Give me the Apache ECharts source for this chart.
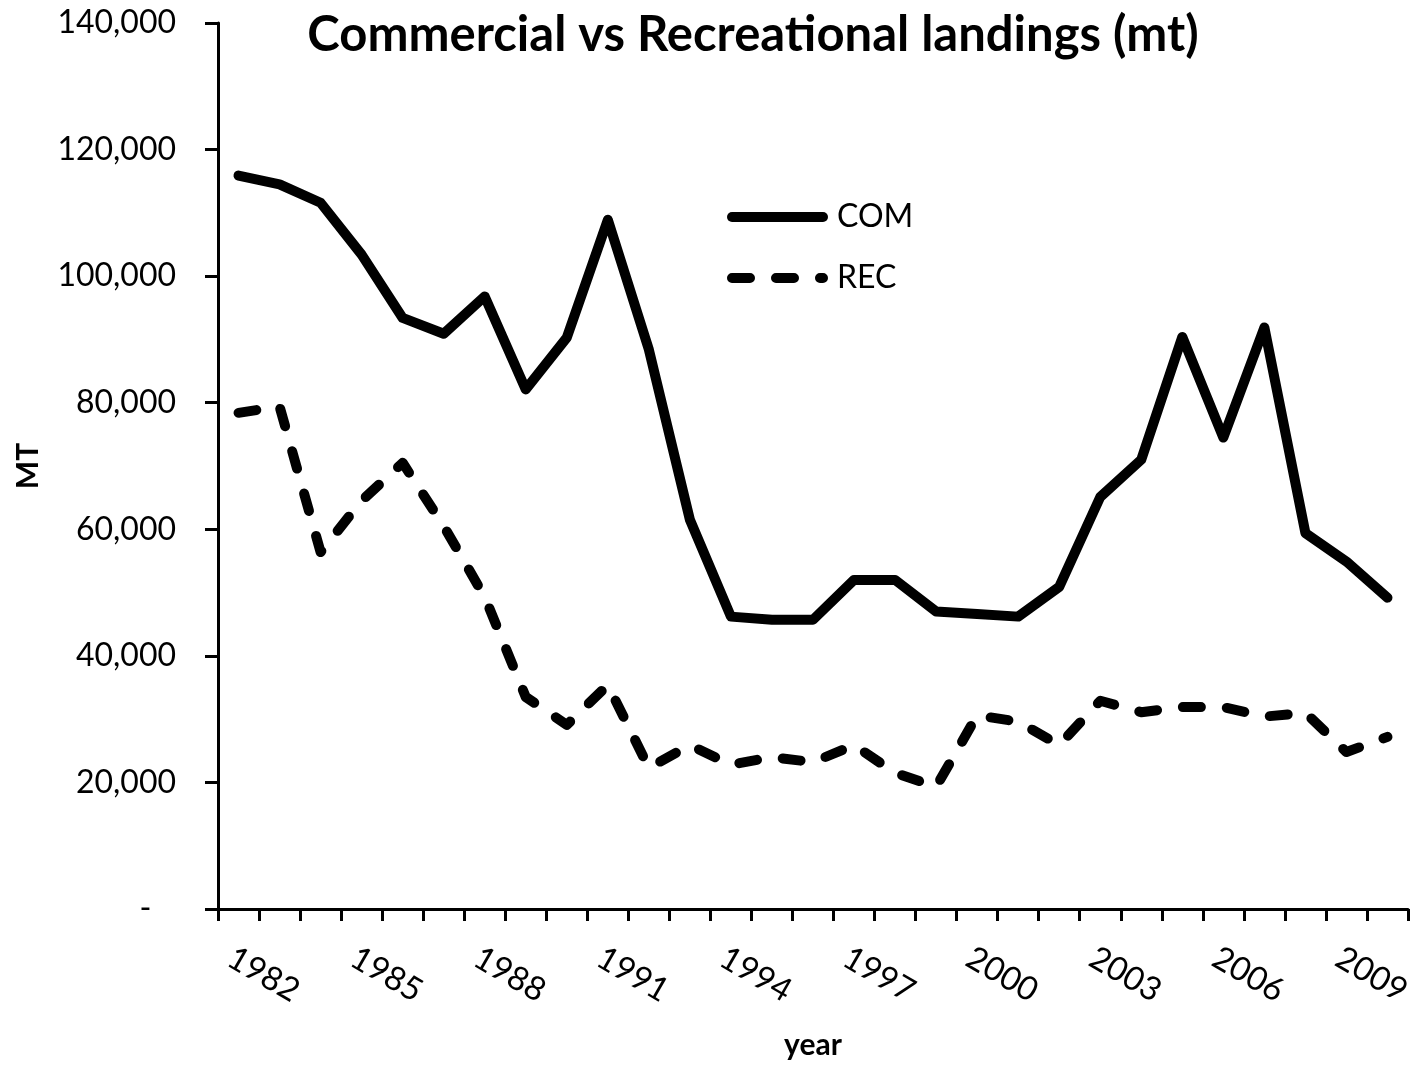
<!DOCTYPE html>
<html>
<head>
<meta charset="utf-8">
<title>Commercial vs Recreational landings</title>
<script src="https://cdn.jsdelivr.net/npm/echarts@6/dist/echarts.min.js"></script>
<style>
  html, body { margin: 0; padding: 0; background: #fff; }
  #landings { width: 1414px; height: 1066px; }
</style>
</head>
<body>
<div id="landings"></div>
<script>
// years on the x axis
var years = ['1982','1983','1984','1985','1986','1987','1988','1989','1990','1991',
             '1992','1993','1994','1995','1996','1997','1998','1999','2000','2001',
             '2002','2003','2004','2005','2006','2007','2008','2009','2010'];

// commercial landings (mt)
var comData = [115900, 114500, 111600, 103400, 93400, 90900, 96800, 82100, 90300, 108900,
               88400, 61500, 46200, 45700, 45700, 52000, 52000, 47000, 46600, 46200,
               50900, 65100, 71000, 90400, 74500, 91900, 59400, 54900, 49200];

// recreational landings (mt)
var recData = [78400, 79400, 56400, 64500, 70500, 60500, 49300, 33500, 29100, 35400,
               22300, 25900, 22800, 24000, 23200, 25900, 21500, 19300, 30600, 29600,
               25900, 32900, 31100, 31900, 31900, 30400, 31000, 24800, 27200];

var yTicks = { min: 0, max: 140000, step: 20000 };

var font = 'Lato';
var myChart = echarts.init(document.getElementById('landings'));

var option = {
    backgroundColor: '#ffffff',
    animation: false,
    title: {
        text: 'Commercial vs Recreational landings (mt)',
        left: 748,
        top: 6,
        textAlign: 'center',
        textStyle: { fontFamily: font, fontWeight: 'bold', fontSize: 49, color: '#000' }
    },
    legend: {
        orient: 'vertical',
        left: 722,
        top: 196,
        itemWidth: 91,
        itemHeight: 20,
        itemGap: 29,
        data: ['COM', 'REC'],
        // hide the centre symbol, keep only the line
        itemStyle: { color: 'rgba(0,0,0,0)', borderColor: 'rgba(0,0,0,0)', borderWidth: 0 },
        lineStyle: { width: 10, cap: 'round' },
        textStyle: { fontFamily: font, fontSize: 32, color: '#000', lineHeight: 32, padding: [0, 0, 0, 9] }
    },
    grid: {
        left: 218,
        right: 6,
        top: 23,
        bottom: 157,
        containLabel: false,
        outerBoundsMode: 'none'
    },
    xAxis: {
        type: 'category',
        data: years,
        boundaryGap: true,
        name: 'year',
        nameLocation: 'middle',
        nameGap: 121,
        nameTextStyle: { fontFamily: font, fontWeight: 'bold', fontSize: 30, color: '#000' },
        axisLine: { lineStyle: { color: '#000', width: 3 } },
        axisTick: { show: true, interval: 0, length: 12, lineStyle: { color: '#000', width: 3 } },
        axisLabel: {
            interval: 2,
            rotate: -30,
            verticalAlign: 'top',
            margin: 32,
            fontFamily: font,
            fontSize: 33,
            color: '#000'
        },
        splitLine: { show: false }
    },
    yAxis: {
        type: 'value',
        min: yTicks.min,
        max: yTicks.max,
        interval: yTicks.step,
        name: 'MT',
        nameLocation: 'middle',
        nameGap: 175,
        nameRotate: 90,
        nameTextStyle: { fontFamily: font, fontWeight: 'bold', fontSize: 30, color: '#000' },
        axisLine: { show: true, lineStyle: { color: '#000', width: 3 } },
        axisTick: { show: true, length: 13, lineStyle: { color: '#000', width: 3 } },
        axisLabel: {
            margin: 42,
            fontFamily: font,
            fontSize: 32,
            color: '#000',
            formatter: function (v) {
                // excel accounting style: zero shows as a dash
                if (v === 0) return '-   ';
                return v.toLocaleString('en-US');
            }
        },
        splitLine: { show: false }
    },
    series: [
        {
            name: 'COM',
            type: 'line',
            data: comData,
            symbol: 'none',
            color: '#000',
            lineStyle: { color: '#000', width: 10, cap: 'round', join: 'round' }
        },
        {
            name: 'REC',
            type: 'line',
            data: recData,
            symbol: 'none',
            color: '#000',
            lineStyle: { color: '#000', width: 10, type: [18, 26], cap: 'round', join: 'round' }
        }
    ]
};

myChart.setOption(option);
window.addEventListener('resize', function () {
    myChart.resize();
});
</script>
</body>
</html>
